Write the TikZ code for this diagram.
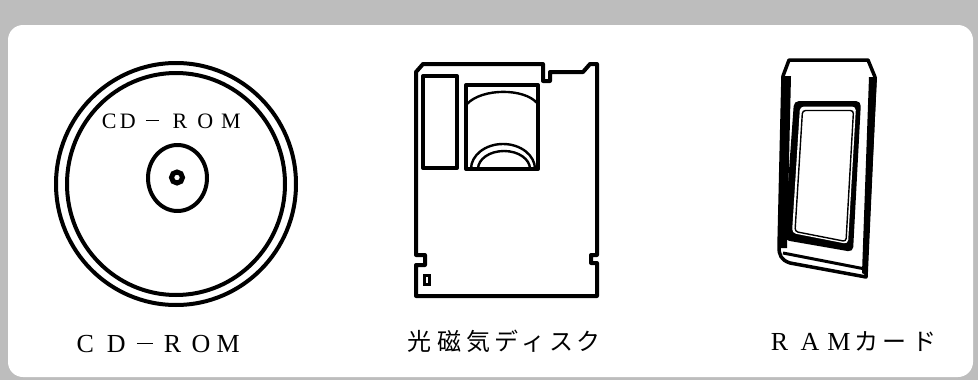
\documentclass[tikz,border=0pt]{standalone}
\usepackage{fontspec}
\setmainfont{Liberation Serif}
\newfontfamily\jpfont{Noto Sans CJK JP}
\newcommand\lcell[2]{\makebox[#1pt][c]{#2}}
\newcommand\zdash{\raisebox{0.30em}{\rule{0.6em}{0.055em}}}
\definecolor{halftone}{gray}{0.74}
\tikzset{
  ink/.style={line width=4pt, line join=round, line cap=round},
  thinink/.style={line width=2.4pt, line join=round, line cap=round},
  caption/.style={inner sep=0pt, anchor=base west, font=\fontsize{26pt}{28pt}\selectfont},
  jpcaption/.style={inner sep=0pt, anchor=base west, font=\jpfont\fontsize{24pt}{26pt}\selectfont},
}
\begin{document}
\begin{tikzpicture}[x=1pt, y=-1pt]
\useasboundingbox (0,0) rectangle (978,380);
% screened frame and white panel
\fill[halftone] (0,0) rectangle (978,380);
\fill[white, rounded corners=15pt] (8,25) rectangle (973,377);

% ---------- CD-ROM disc ----------
\draw[ink] (176,184) ellipse [x radius=120pt, y radius=121pt];
\draw[ink] (176,184) ellipse [x radius=109pt, y radius=111pt];
\draw[ink] (177.5,178) ellipse [x radius=29.5pt, y radius=33pt];
\draw[line width=5pt] (177,177.5) circle [radius=5.5pt];
\node[caption, font=\fontsize{22pt}{24pt}\selectfont] (disclabel) at (101,128)
  {\lcell{16}{C}\lcell{21}{D}\lcell{28.5}{\zdash}\lcell{26.5}{R}\lcell{24.5}{O}\lcell{26.5}{M}};
\node[caption] (cdcap) at (69,352)
  {\lcell{32}{C}\lcell{30}{D}\lcell{27}{\zdash}\lcell{28.5}{R}\lcell{28.5}{O}\lcell{26}{M}};

% ---------- magneto-optical cartridge ----------
\draw[ink] (416,72) -- (423,64) -- (543,64) -- (543,81) -- (550,81) -- (550,72)
  -- (583,72) -- (590,64) -- (597,64) -- (597,255) -- (591,255) -- (591,263)
  -- (597,263) -- (597,296) -- (416,296) -- (416,265) -- (425,265) -- (425,255)
  -- (416,255) -- cycle;
% label slot
\draw[ink] (423,76) rectangle (457,168);
% shutter window
\draw[ink] (466,85) rectangle (538,169);
\draw[thinink] (467,104) .. controls (482,88) and (524,88) .. (537,103);
\draw[thinink] (471,169) arc[start angle=180, end angle=0, x radius=32pt, y radius=25pt];
\draw[thinink] (478,169) arc[start angle=180, end angle=0, x radius=26pt, y radius=18pt];
% write-protect tab
\draw[line width=3pt] (424.5,275.5) rectangle (429.5,284);
\node[jpcaption] (mocap) at (403.5,350)
  {\lcell{31}{光}\lcell{29.5}{磁}\lcell{28}{気}\lcell{28}{デ}\lcell{27.5}{ィ}\lcell{27}{ス}\lcell{28}{ク}};

% ---------- RAM card ----------
% body outline
\draw[line width=3.5pt, line join=round] (789,60) -- (868,60) -- (875,77) -- (866,277)
  -- (790,263) .. controls (781,260) and (779,255) .. (779,247) -- (783,76) -- cycle;
% thick side edges
\fill (782,76) -- (791,76) -- (787,248) -- (778,248) -- cycle;
\fill (869,77) -- (877,77) -- (867,276) -- (862,273) -- cycle;
% lower faces
\draw[line width=3pt] (783,253) -- (865,269);
% label frame with double rim
\fill[rounded corners=5pt] (794,101) -- (861,101) -- (853,252) -- (784,240) -- cycle;
\fill[white, rounded corners=4pt] (800,106.5) -- (856,106.5) -- (848,244) -- (792,233) -- cycle;
\draw[line width=1.4pt, rounded corners=3pt] (802.5,110.5) -- (853.5,110.5) -- (846,241.5) -- (795,231.5) -- cycle;
\node[caption, anchor=base west, inner sep=0pt] (ramcap) at (764,350)
  {\lcell{30.5}{R}\lcell{30.5}{A}\lcell{27.5}{M}\lcell{27.5}{\jpfont\fontsize{24pt}{26pt}\selectfont カ}\lcell{29.5}{\jpfont\fontsize{24pt}{26pt}\selectfont ー}\lcell{29.5}{\jpfont\fontsize{24pt}{26pt}\selectfont ド}};
\end{tikzpicture}
\end{document}
